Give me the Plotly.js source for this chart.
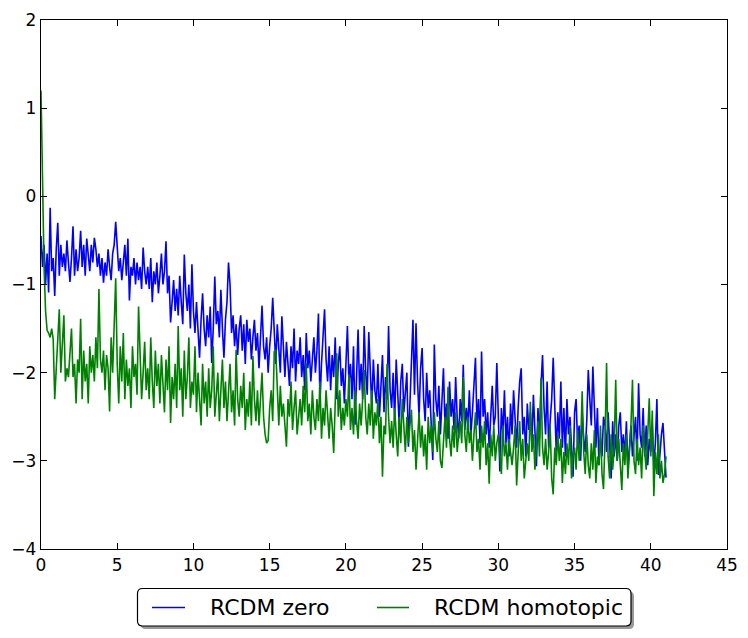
<!DOCTYPE html>
<html>
<head>
<meta charset="utf-8">
<script src="https://cdn.plot.ly/plotly-3.0.1.min.js"></script>
<style>
  html, body { margin: 0; padding: 0; background: #ffffff; }
  #chart { width: 748px; height: 638px; }
</style>
</head>
<body>
<div id="chart"></div>
<script>
// ---- data ----
const seriesNames = ["RCDM zero", "RCDM homotopic"];
const xStart = 0;
const xStep = 0.1;

const zeroValues = [
  -0.45,-0.8,-0.55,-1.0,-0.65,-1.09,-0.13,-0.85,-0.7,-1.13,
  -0.6,-0.3,-0.9,-0.55,-0.8,-0.65,-0.85,-0.5,-0.75,-0.97,
  -0.7,-0.34,-0.9,-0.6,-0.85,-0.7,-0.39,-0.8,-0.55,-0.9,
  -0.48,-0.7,-0.85,-0.55,-0.75,-0.47,-0.6,-0.8,-0.65,-0.9,
  -0.7,-0.98,-0.75,-0.9,-0.6,-0.8,-0.95,-0.65,-0.55,-0.29,
  -0.6,-0.85,-0.7,-0.95,-0.75,-0.55,-0.9,-0.48,-1.18,-0.8,
  -0.9,-0.7,-1.0,-0.75,-0.95,-0.8,-1.05,-0.58,-0.85,-1.0,
  -0.8,-1.05,-0.7,-1.2,-0.85,-1.0,-0.75,-1.1,-0.9,-0.65,
  -1.0,-0.85,-0.51,-1.1,-0.9,-1.43,-1.2,-0.95,-1.3,-1.05,
  -1.35,-0.9,-1.2,-1.45,-0.66,-1.1,-1.3,-1.0,-1.5,-0.77,
  -1.3,-1.55,-1.2,-1.6,-1.83,-1.4,-1.1,-1.5,-1.7,-1.35,
  -1.6,-1.25,-1.89,-1.5,-0.91,-1.45,-1.3,-1.6,-1.06,-1.5,
  -1.83,-1.4,-1.2,-0.75,-1.0,-1.55,-1.35,-1.7,-1.45,-1.8,
  -1.5,-1.35,-1.75,-1.45,-1.9,-1.4,-1.65,-1.5,-1.85,-1.6,
  -1.4,-1.75,-1.55,-1.95,-1.5,-1.24,-1.7,-1.85,-1.6,-2.0,
  -1.7,-1.5,-1.15,-1.6,-1.9,-1.45,-1.75,-2.0,-1.36,-1.8,
  -2.05,-1.65,-1.9,-2.15,-1.7,-1.95,-1.5,-2.1,-1.75,-1.9,
  -1.6,-2.05,-1.8,-2.2,-1.55,-1.95,-1.75,-2.1,-1.85,-1.6,
  -2.0,-1.75,-1.33,-2.34,-1.9,-1.65,-1.28,-1.85,-2.1,-1.7,
  -2.2,-1.8,-2.05,-1.6,-2.3,-1.9,-1.7,-2.15,-1.95,-2.35,
  -1.8,-1.47,-2.1,-1.9,-2.3,-1.7,-2.59,-2.0,-1.51,-2.2,
  -1.9,-2.3,-1.47,-2.0,-2.25,-1.54,-2.1,-2.4,-1.85,-2.2,
  -2.35,-1.9,-2.5,-2.15,-1.8,-2.45,-2.05,-2.3,-1.47,-2.2,
  -2.4,-2.0,-2.55,-1.85,-2.3,-2.6,-2.1,-1.9,-2.45,-2.2,
  -2.0,-2.84,-2.3,-1.75,-1.4,-2.25,-1.44,-2.1,-2.5,-1.95,
  -1.72,-2.3,-2.55,-2.0,-2.4,-2.2,-2.65,-2.99,-1.68,-2.3,
  -2.5,-2.15,-2.7,-2.3,-1.95,-2.6,-2.35,-2.75,-2.1,-2.5,
  -2.3,-2.65,-2.05,-2.5,-2.75,-2.3,-2.55,-1.91,-2.65,-2.4,
  -2.6,-2.2,-2.7,-2.45,-2.05,-1.83,-2.6,-2.3,-2.8,-1.76,
  -2.5,-2.3,-2.7,-2.45,-2.85,-2.4,-2.15,-2.6,-2.5,-1.89,
  -2.6,-3.12,-2.4,-2.7,-2.2,-2.8,-2.5,-2.95,-2.35,-2.7,
  -2.2,-2.6,-2.85,-2.4,-2.1,-1.95,-2.7,-2.5,-2.95,-2.35,
  -2.65,-2.45,-2.8,-2.25,-2.65,-3.06,-2.4,-2.75,-2.15,-1.8,
  -2.4,-2.7,-2.1,-2.85,-2.55,-2.3,-1.83,-2.5,-2.9,-2.45,
  -2.75,-2.1,-2.85,-2.4,-2.95,-2.3,-2.7,-2.5,-2.9,-3.18,
  -2.45,-2.3,-2.8,-2.6,-3.0,-2.45,-2.75,-2.9,-2.55,-1.97,
  -2.3,-2.6,-1.93,-2.5,-2.85,-2.4,-3.05,-2.75,-2.95,-2.5,
  -2.6,-2.9,-2.45,-2.8,-3.2,-2.55,-2.95,-2.7,-3.0,-2.6,
  -2.45,-2.9,-2.7,-2.95,-2.55,-3.1,-2.85,-2.6,-2.95,-2.75,
  -2.5,-3.0,-2.12,-2.7,-2.85,-2.4,-2.95,-2.6,-3.05,-2.75,
  -2.9,-2.6,-3.05,-2.8,-2.3,-3.16,-2.9,-2.7,-2.57,-2.95,
  -3.19
];

const homotopicValues = [
  1.2,0.1,-0.8,-1.3,-1.52,-1.55,-1.6,-1.5,-1.62,-2.3,
  -1.9,-1.6,-1.28,-2.0,-1.7,-1.35,-2.1,-1.95,-2.05,-1.7,
  -1.5,-2.05,-1.9,-2.35,-1.85,-2.0,-1.39,-2.3,-1.75,-2.1,
  -1.9,-2.35,-1.7,-2.0,-1.8,-2.1,-1.6,-1.95,-1.05,-1.85,
  -2.0,-1.75,-2.2,-1.8,-1.95,-2.44,-1.6,-2.0,-1.3,-0.93,
  -1.9,-2.35,-1.7,-2.1,-1.55,-2.3,-1.85,-2.15,-1.95,-2.4,
  -1.7,-2.05,-1.9,-2.25,-1.25,-1.8,-2.3,-2.0,-1.65,-2.2,
  -1.95,-2.3,-1.6,-2.1,-2.4,-1.75,-2.15,-1.9,-2.35,-1.8,
  -2.1,-2.45,-1.85,-2.2,-1.7,-2.57,-2.05,-2.3,-1.9,-2.4,
  -1.47,-2.2,-1.95,-2.5,-1.75,-2.3,-2.05,-1.6,-2.4,-2.1,
  -2.25,-1.7,-2.45,-2.0,-2.3,-2.6,-1.9,-2.35,-2.1,-2.5,
  -1.95,-2.4,-2.2,-1.7,-2.5,-2.3,-2.0,-2.55,-2.15,-1.85,
  -2.4,-2.1,-2.55,-2.25,-1.9,-2.45,-2.2,-2.6,-1.74,-2.3,
  -2.5,-2.15,-2.4,-2.0,-2.65,-2.3,-2.5,-2.1,-2.6,-1.81,
  -2.3,-2.55,-2.2,-2.6,-2.35,-2.0,-2.5,-2.7,-2.8,-2.77,
  -2.4,-2.2,-2.55,-1.76,-1.74,-2.3,-2.6,-2.15,-2.5,-2.35,
  -2.6,-2.84,-2.3,-2.5,-2.1,-2.65,-2.4,-2.2,-2.7,-2.45,
  -2.3,-2.6,-2.15,-2.45,-1.89,-2.55,-2.35,-2.7,-2.2,-2.5,
  -2.65,-2.3,-2.55,-2.1,-2.75,-2.4,-2.6,-2.2,-2.5,-2.75,
  -2.4,-2.6,-2.91,-2.3,-1.78,-2.5,-2.2,-2.65,-2.4,-2.6,
  -2.3,-2.5,-2.02,-2.65,-2.4,-2.7,-2.2,-2.55,-2.75,-2.35,
  -2.6,-2.3,-1.97,-2.5,-2.7,-2.35,-2.6,-2.2,-2.75,-2.45,
  -2.6,-2.3,-2.8,-2.5,-3.18,-2.6,-2.7,-1.9,-2.5,-2.8,
  -2.55,-2.85,-2.4,-2.7,-2.95,-2.5,-2.8,-2.3,-2.65,-2.9,
  -2.5,-2.8,-2.6,-2.42,-2.9,-2.65,-3.1,-2.7,-2.45,-2.85,
  -2.6,-2.95,-2.7,-3.1,-2.5,-2.8,-2.6,-2.9,-2.45,-2.75,
  -2.9,-2.55,-3.0,-3.08,-2.7,-2.5,-2.85,-2.16,-2.75,-2.95,
  -2.6,-2.85,-2.45,-2.9,-2.7,-2.55,-2.8,-2.05,-2.7,-2.9,
  -2.5,-2.8,-2.65,-3.0,-2.7,-2.45,-2.9,-2.75,-3.1,-2.6,
  -2.85,-2.55,-3.05,-2.8,-3.26,-2.7,-2.95,-2.6,-3.0,-2.8,
  -2.7,-2.95,-3.15,-2.6,-2.95,-2.8,-3.1,-2.75,-2.9,-3.05,
  -2.85,-2.6,-3.28,-2.9,-2.55,-3.0,-2.75,-3.2,-2.95,-2.8,
  -3.0,-2.33,-2.9,-2.7,-3.1,-2.8,-2.55,-2.95,-2.06,-2.85,
  -3.05,-2.75,-3.1,-2.9,-2.6,-3.2,-3.38,-2.85,-3.05,-2.7,
  -3.0,-2.75,-3.25,-2.9,-3.15,-2.8,-3.05,-2.6,-3.2,-2.95,
  -2.85,-3.1,-2.65,-3.0,-2.8,-2.21,-2.9,-3.15,-2.7,-3.05,
  -3.2,-2.8,-3.1,-2.65,-3.25,-2.95,-3.05,-2.6,-3.15,-3.32,
  -2.75,-1.89,-2.95,-3.2,-2.7,-3.1,-2.85,-2.08,-3.0,-2.75,
  -3.1,-3.33,-2.8,-3.05,-2.7,-3.2,-2.9,-2.6,-2.08,-3.0,
  -3.15,-2.75,-3.05,-2.85,-3.2,-2.6,-2.9,-3.1,-2.7,-2.29,
  -2.95,-2.43,-3.4,-2.9,-3.15,-2.7,-3.2,-3.0,-3.25,-3.15,
  -2.95
];

const xTickValues = [0, 5, 10, 15, 20, 25, 30, 35, 40, 45];
const yTickValues = [-4, -3, -2, -1, 0, 1, 2];

// ---- build ----
const xs = zeroValues.map((_, i) => +(xStart + i * xStep).toFixed(1));

const W = 748, H = 638;
const M = { l: 41, r: 21, t: 20, b: 89 };
const PW = W - M.l - M.r, PH = H - M.t - M.b;
const px = v => (v - M.l) / PW;           // pixel x -> paper x
const py = v => (H - M.b - v) / PH;       // pixel y -> paper y

const FONT = "DejaVu Sans, Liberation Sans, sans-serif";
const colors = ["#0000ff", "#008000"];

const traces = [
  { x: xs, y: zeroValues, name: seriesNames[0], type: "scatter", mode: "lines",
    line: { color: colors[0], width: 1.6 }, showlegend: false, hoverinfo: "skip" },
  { x: xs, y: homotopicValues, name: seriesNames[1], type: "scatter", mode: "lines",
    line: { color: colors[1], width: 1.6 }, showlegend: false, hoverinfo: "skip" }
];

function roundRect(x0p, y0p, x1p, y1p, r) {
  // pixel coords, y downwards
  const X0 = px(x0p), X1 = px(x1p), YT = py(y0p), YB = py(y1p);
  const rx = r / PW, ry = r / PH;
  return "M" + (X0 + rx) + "," + YT +
    " L" + (X1 - rx) + "," + YT +
    " Q" + X1 + "," + YT + " " + X1 + "," + (YT - ry) +
    " L" + X1 + "," + (YB + ry) +
    " Q" + X1 + "," + YB + " " + (X1 - rx) + "," + YB +
    " L" + (X0 + rx) + "," + YB +
    " Q" + X0 + "," + YB + " " + X0 + "," + (YB + ry) +
    " L" + X0 + "," + (YT - ry) +
    " Q" + X0 + "," + YT + " " + (X0 + rx) + "," + YT + " Z";
}

const legBox = { x0: 137.5, y0: 588.5, x1: 631, y1: 626 };
const legMidY = 607.5;
const shapes = [
  { type: "path", xref: "paper", yref: "paper",
    path: roundRect(legBox.x0 + 3, legBox.y0 + 3, legBox.x1 + 3, legBox.y1 + 3, 5),
    fillcolor: "#999999", line: { width: 0 } },
  { type: "path", xref: "paper", yref: "paper",
    path: roundRect(legBox.x0, legBox.y0, legBox.x1, legBox.y1, 5),
    fillcolor: "#ffffff", line: { color: "#000000", width: 1.2 } },
  { type: "line", xref: "paper", yref: "paper",
    x0: px(152), x1: px(185), y0: py(legMidY), y1: py(legMidY),
    line: { color: colors[0], width: 1.6 } },
  { type: "line", xref: "paper", yref: "paper",
    x0: px(377), x1: px(409), y0: py(legMidY), y1: py(legMidY),
    line: { color: colors[1], width: 1.6 } }
];

const annotations = [
  { text: seriesNames[0], xref: "paper", yref: "paper", x: px(208), y: py(legMidY),
    xanchor: "left", yanchor: "middle", showarrow: false,
    font: { family: FONT, size: 22, color: "#000000" } },
  { text: seriesNames[1], xref: "paper", yref: "paper", x: px(432), y: py(legMidY),
    xanchor: "left", yanchor: "middle", showarrow: false,
    font: { family: FONT, size: 22, color: "#000000" } }
];

const axisCommon = {
  showgrid: false, zeroline: false,
  showline: true, mirror: "ticks", linecolor: "#000000", linewidth: 1.2,
  ticks: "inside", ticklen: 6, tickwidth: 1, tickcolor: "#000000",
  tickfont: { family: FONT, size: 17, color: "#000000" }
};

const layout = {
  width: W, height: H,
  margin: M,
  paper_bgcolor: "#ffffff", plot_bgcolor: "#ffffff",
  showlegend: false,
  font: { family: FONT, color: "#000000" },
  xaxis: Object.assign({}, axisCommon, {
    range: [0, 45], tickmode: "array", tickvals: xTickValues,
    ticktext: xTickValues.map(String)
  }),
  yaxis: Object.assign({}, axisCommon, {
    range: [-4, 2], tickmode: "array", tickvals: yTickValues,
    ticktext: yTickValues.map(v => v < 0 ? "\u2212" + Math.abs(v) : String(v))
  }),
  shapes: shapes,
  annotations: annotations
};

Plotly.newPlot("chart", traces, layout, { staticPlot: true, displayModeBar: false });
</script>
</body>
</html>
